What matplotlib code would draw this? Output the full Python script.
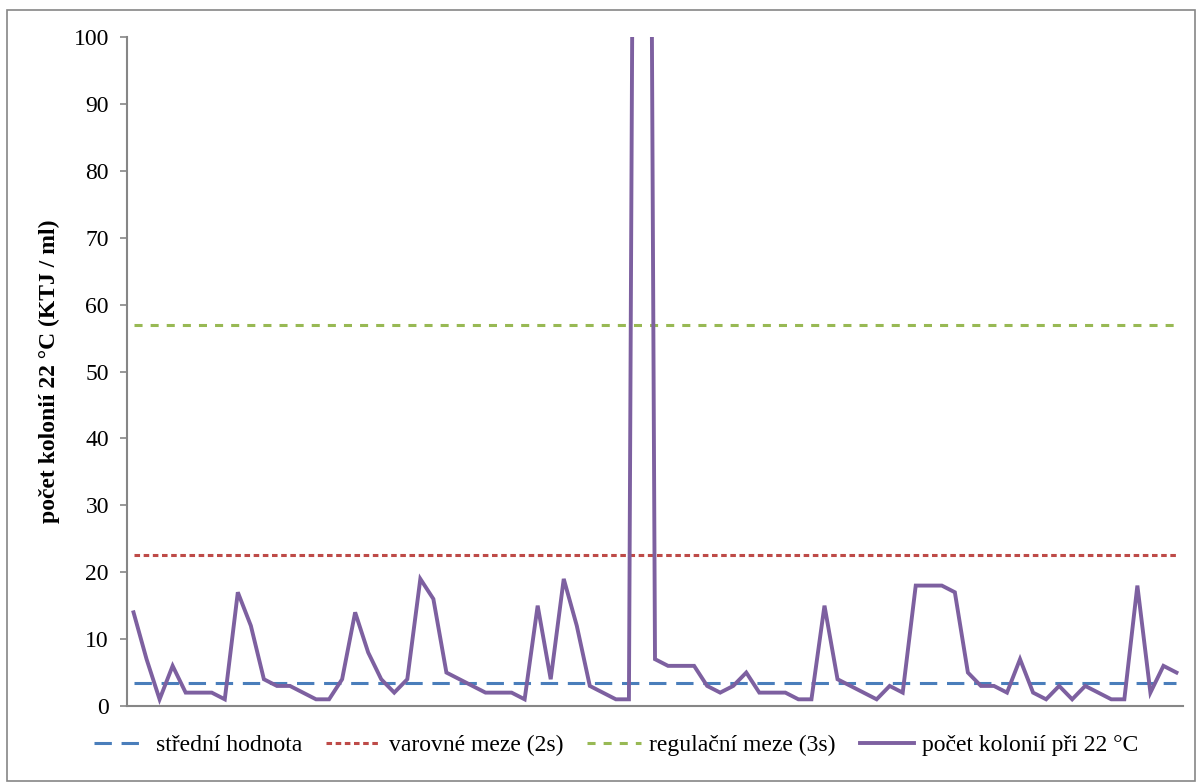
import numpy as np
import matplotlib
matplotlib.use('Agg')
import matplotlib.pyplot as plt
from matplotlib.patches import Rectangle

# values
counts = [14, 7, 1, 6, 2, 2, 2, 1, 17, 12, 4, 3, 3, 2, 1, 1, 4, 14, 8, 4,
          2, 4, 19, 16, 5, 4, 3, 2, 2, 2, 1, 15, 4, 19, 12, 3, 2, 1, 1, 400,
          7, 6, 6, 6, 3, 2, 3, 5, 2, 2, 2, 1, 1, 15, 4, 3, 2, 1, 3, 2,
          18, 18, 18, 17, 5, 3, 3, 2, 7, 2, 1, 3, 1, 3, 2, 1, 1, 18, 2, 6, 5]
mean_val = 3.5
warn_val = 22.5
ctrl_val = 57.0
yticks = list(range(0, 101, 10))

labels = ['střední hodnota', 'varovné meze (2s)', 'regulační meze (3s)',
          'počet kolonií při 22 °C']
ylabel = 'počet kolonií 22 °C (KTJ / ml)'

plt.rcParams['font.family'] = ['Liberation Serif', 'DejaVu Serif']
plt.rcParams['lines.scale_dashes'] = False

fig = plt.figure(figsize=(12.01, 7.83), dpi=100)
ax = fig.add_axes([127/1201, 1-706/783, (1183-127)/1201, (706-37)/783])

x = np.arange(len(counts))
n = len(counts)
ax.plot(x, [mean_val]*n, color='#4a7ebb', lw=2.2, ls=(0, (12.5, 7)), label=labels[0])
ax.plot(x, [warn_val]*n, color='#be4b48', lw=2.2, ls=(0, (4, 2.6)), label=labels[1])
ax.plot(x, [ctrl_val]*n, color='#98b954', lw=2.2, ls=(0, (5.8, 5.8)), label=labels[2])
ax.plot(x, counts, color='#7d60a0', lw=2.8, label=labels[3], solid_joinstyle='miter')

ax.set_xlim(-0.5, n - 0.5)
ax.set_ylim(0, 100)
ax.set_yticks(yticks)
ax.set_xticks([])
for s in ['top', 'right']:
    ax.spines[s].set_visible(False)
for s in ['left', 'bottom']:
    ax.spines[s].set_color('#868686')
    ax.spines[s].set_linewidth(1.5)
ax.tick_params(axis='y', direction='out', length=5, width=1.2, color='#868686',
               labelsize=17, pad=8)
ax.set_ylabel(ylabel, fontsize=17, fontweight='bold')
ax.yaxis.set_label_coords(-0.063, 0.5)

fig.legend(loc='center', bbox_to_anchor=(0.513, 1-745/783), ncol=4, frameon=False,
           fontsize=17, handlelength=2.3, columnspacing=1.0, handletextpad=0.35)

fig.patches.append(Rectangle((7/1201, 2/783), (1195-7)/1201, (773-2)/783,
                             transform=fig.transFigure, fill=False,
                             edgecolor='#868686', lw=1.2))

fig.savefig('out.png', dpi=100)
